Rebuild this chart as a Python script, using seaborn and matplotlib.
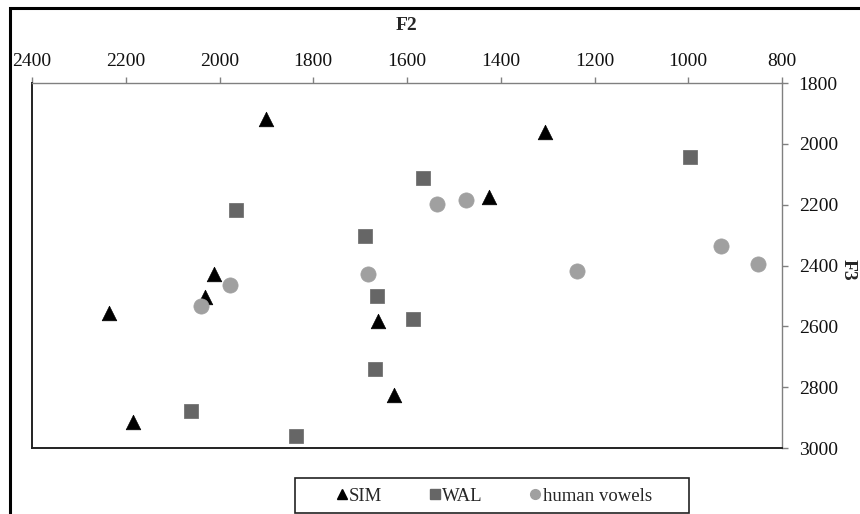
import numpy as np
import pandas as pd
import seaborn as sns
import matplotlib.pyplot as plt
from matplotlib.patches import Rectangle

# F2 / F3 values (Hz)
sim_f2 = [1900, 1305, 1425, 2012, 2031, 2236, 2185, 1662, 1628]
sim_f3 = [1918, 1960, 2175, 2428, 2504, 2556, 2915, 2582, 2826]

wal_f2 = [996, 1566, 1965, 1690, 1664, 1587, 1668, 2061, 1837]
wal_f3 = [2043, 2112, 2218, 2303, 2500, 2576, 2740, 2879, 2961]

human_f2 = [1536, 1474, 1683, 1237, 1978, 2039, 930, 851]
human_f3 = [2198, 2185, 2428, 2418, 2464, 2533, 2336, 2395]

series_names = ['SIM', 'WAL', 'human vowels']

df = pd.concat([
    pd.DataFrame({'F2': sim_f2, 'F3': sim_f3, 'series': 'SIM'}),
    pd.DataFrame({'F2': wal_f2, 'F3': wal_f3, 'series': 'WAL'}),
    pd.DataFrame({'F2': human_f2, 'F3': human_f3, 'series': 'human vowels'}),
], ignore_index=True)

sns.set_theme(style='white')
plt.rcParams['font.family'] = ['Liberation Serif', 'DejaVu Serif']

palette = {'SIM': '#000000', 'WAL': '#666666', 'human vowels': '#a0a0a0'}
markers = {'SIM': '^', 'WAL': 's', 'human vowels': 'o'}
sizes = {'SIM': 110, 'WAL': 105, 'human vowels': 120}

fig = plt.figure(figsize=(8.6, 5.14), dpi=100)
ax = fig.add_axes([32 / 860, 1 - 448 / 514, 750 / 860, 365 / 514])

for name in series_names:
    sns.scatterplot(data=df[df['series'] == name], x='F2', y='F3', ax=ax,
                    color=palette[name], marker=markers[name], s=sizes[name],
                    edgecolor=palette[name], linewidth=0.5, legend=False)

ax.set_xlim(2400, 800)
ax.set_ylim(3000, 1800)
ax.set_xticks(np.arange(800, 2401, 200))
ax.set_yticks(np.arange(1800, 3001, 200))

ax.xaxis.set_ticks_position('top')
ax.xaxis.set_label_position('top')
ax.yaxis.set_ticks_position('right')
ax.yaxis.set_label_position('right')

ax.tick_params(axis='both', direction='out', length=4, width=1, color='#808080',
               labelsize=14, labelcolor='#111111')
ax.tick_params(axis='x', pad=5)
ax.tick_params(axis='y', pad=8)

ax.set_xlabel('F2', fontsize=14, fontweight='bold')
ax.set_ylabel('F3', fontsize=14, fontweight='bold', rotation=270, va='center', ha='center')
ax.xaxis.set_label_coords(0.5, (448 - 25) / 365)
ax.yaxis.set_label_coords((848 - 32) / 750, (448 - 270) / 365)
ax.xaxis.label.set_va('center')

for side in ['top', 'right']:
    ax.spines[side].set_color('#808080')
    ax.spines[side].set_linewidth(1.0)
for side in ['left', 'bottom']:
    ax.spines[side].set_color('#222222')
    ax.spines[side].set_linewidth(1.4)

# legend below the plot, with its own box
handles = [plt.Line2D([], [], linestyle='none', marker=markers[n], color=palette[n],
                      markersize=7) for n in series_names]
fig.legend(handles, series_names, loc='center', bbox_to_anchor=(494 / 860, 1 - 496 / 514),
           ncol=3, frameon=False, fontsize=13.5, handlelength=0.6,
           handletextpad=0.1, columnspacing=2.5)
fig.patches.append(Rectangle((295 / 860, 1 - 513 / 514), 394 / 860, 35 / 514,
                             transform=fig.transFigure, fill=False,
                             edgecolor='#222222', linewidth=1.2))

# outer chart border (runs off the right and bottom edges)
fig.patches.append(Rectangle((10 / 860, -0.2), 1.2, 1.2 - 8 / 514, transform=fig.transFigure,
                             fill=False, edgecolor='black', linewidth=2.2))

fig.savefig('out.png', dpi=100)
